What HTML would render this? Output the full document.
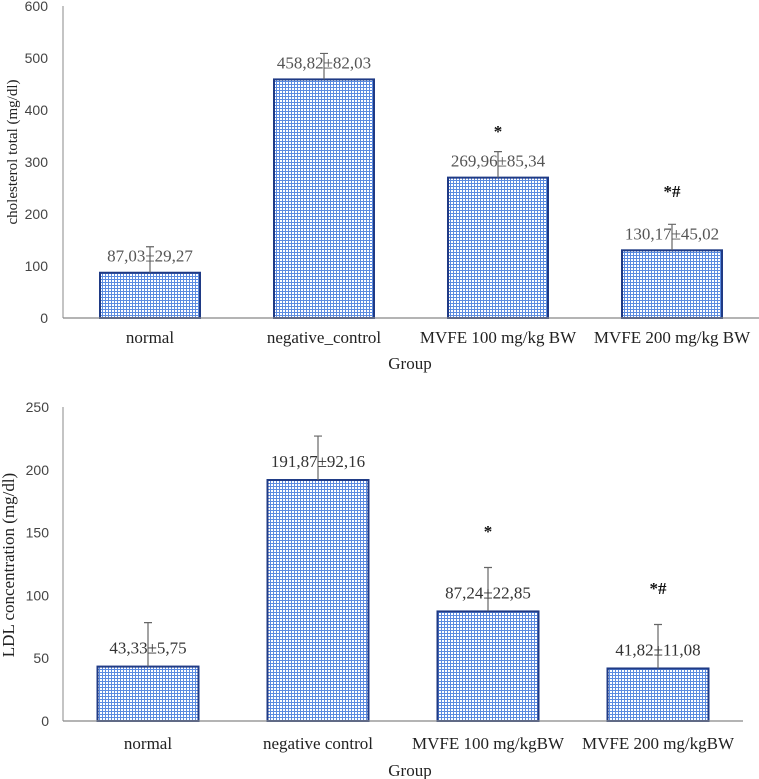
<!DOCTYPE html>
<html><head><meta charset="utf-8"><style>
body{margin:0;background:#fff;}
svg{display:block;font-family:"Liberation Serif",serif;}
</style></head><body>
<svg id="c" width="759" height="779">
<defs>
<pattern id="grid" width="3" height="3" patternUnits="userSpaceOnUse">
<rect width="3" height="3" fill="#fff"/>
<rect x="0" y="0" width="3" height="1" fill="#5b8be0"/>
<rect x="0" y="0" width="1" height="3" fill="#5b8be0"/>
</pattern>
</defs>
</svg>
<script>
// Chart 1: cholesterol total
const cats1 = ["normal","negative_control","MVFE 100 mg/kg BW","MVFE 200 mg/kg BW"];
const vals1 = [87.03,458.82,269.96,130.17];
const errs1 = [50,50,50,50];
const labels1 = ["87,03±29,27","458,82±82,03","269,96±85,34","130,17±45,02"];
const marks1 = ["","","*","*#"];
const ticks1 = [0,100,200,300,400,500,600];
// Chart 2: LDL
const cats2 = ["normal","negative control","MVFE 100 mg/kgBW","MVFE 200 mg/kgBW"];
const vals2 = [43.33,191.87,87.24,41.82];
const errs2 = [35,35,35,35];
const labels2 = ["43,33±5,75","191,87±92,16","87,24±22,85","41,82±11,08"];
const marks2 = ["","","*","*#"];
const ticks2 = [0,50,100,150,200,250];

const svg=document.getElementById('c');
const NS="http://www.w3.org/2000/svg";
function mk(tag,attrs,parent,text){const e=document.createElementNS(NS,tag);for(const k in attrs)e.setAttribute(k,attrs[k]);if(text!==undefined)e.textContent=text;(parent||svg).appendChild(e);return e;}

function draw(cfg){
  const g=mk('g',{});
  
  
  const y=v=>cfg.base-(v/cfg.max)*(cfg.base-cfg.top);
  const band=(cfg.right-cfg.left)/cfg.cats.length;
  const xc=i=>cfg.left+band*(i+0.5);
  const ya=mk('line',{x1:cfg.left,y1:cfg.top,x2:cfg.left,y2:cfg.base,stroke:'#888','stroke-width':1},g);
  
  
  cfg.ticks.forEach(t=>{
    const tl=mk('text',{x:cfg.tickX,y:y(t)+5,'text-anchor':'end','font-size':cfg.tickFs,'font-family':'"Liberation Sans",sans-serif',fill:'#444'},g,String(t));
    
    
  });
  cfg.vals.forEach((v,i)=>{
    const bx=xc(i)-cfg.bw/2;
    const b=mk('rect',{x:bx,y:y(v),width:cfg.bw,height:cfg.base-y(v),fill:'url(#grid)',stroke:'#1f3a85','stroke-width':2},g);
    
    
    const e=mk('path',{d:`M${xc(i)},${y(v)}V${y(v+cfg.errs[i])}M${xc(i)-4},${y(v+cfg.errs[i])}H${xc(i)+4}`,stroke:'#666','stroke-width':1.2,fill:'none'},g);
    
    
    const l=mk('text',{x:xc(i),y:y(v)-cfg.lblOff,'text-anchor':'middle','font-size':cfg.lblFs,fill:cfg.lblFill},g,cfg.labels[i]);
    
    
    if(cfg.marks[i]){
      const m=mk('text',{x:xc(i),y:cfg.markY[i],'text-anchor':'middle','font-size':cfg.lblFs,'font-weight':'bold',fill:'#111'},g,cfg.marks[i]);
      
      
    }
    const c=mk('text',{x:xc(i),y:cfg.catY,'text-anchor':'middle','font-size':cfg.catFs,fill:'#222'},g,cfg.cats[i]);
    
    
  });
  const xa=mk('line',{x1:cfg.left,y1:cfg.base,x2:cfg.right,y2:cfg.base,stroke:'#888','stroke-width':1.2},g);
  
  
  const xt=mk('text',{x:410,y:cfg.groupY,'text-anchor':'middle','font-size':cfg.catFs,fill:'#222'},g,'Group');
  
  
  const yt=mk('text',{x:0,y:0,'text-anchor':'middle','font-size':cfg.titleFs,fill:'#222',transform:`translate(${cfg.titleX},${cfg.titleY}) rotate(-90)`},g,cfg.title);
  
  
}
draw({name:'cholesterol-chart',cats:cats1,vals:vals1,errs:errs1,labels:labels1,marks:marks1,ticks:ticks1,max:600,
 top:6,base:318,left:63,right:759,bw:100,tickX:48,tickFs:14,lblFs:17,lblFill:'#555',lblOff:11,catFs:17,catY:343,groupY:369,
 markY:[0,0,137,197],title:'cholesterol total (mg/dl)',titleFs:15,titleX:17,titleY:152});
draw({name:'ldl-chart',cats:cats2,vals:vals2,errs:errs2,labels:labels2,marks:marks2,ticks:ticks2,max:250,
 top:407,base:721,left:63,right:743,bw:101,tickX:49,tickFs:14,lblFs:17,lblFill:'#333',lblOff:13,catFs:17,catY:749,groupY:776,
 markY:[0,0,537,594],title:'LDL concentration (mg/dl)',titleFs:17,titleX:14,titleY:565});
</script>
</body></html>
